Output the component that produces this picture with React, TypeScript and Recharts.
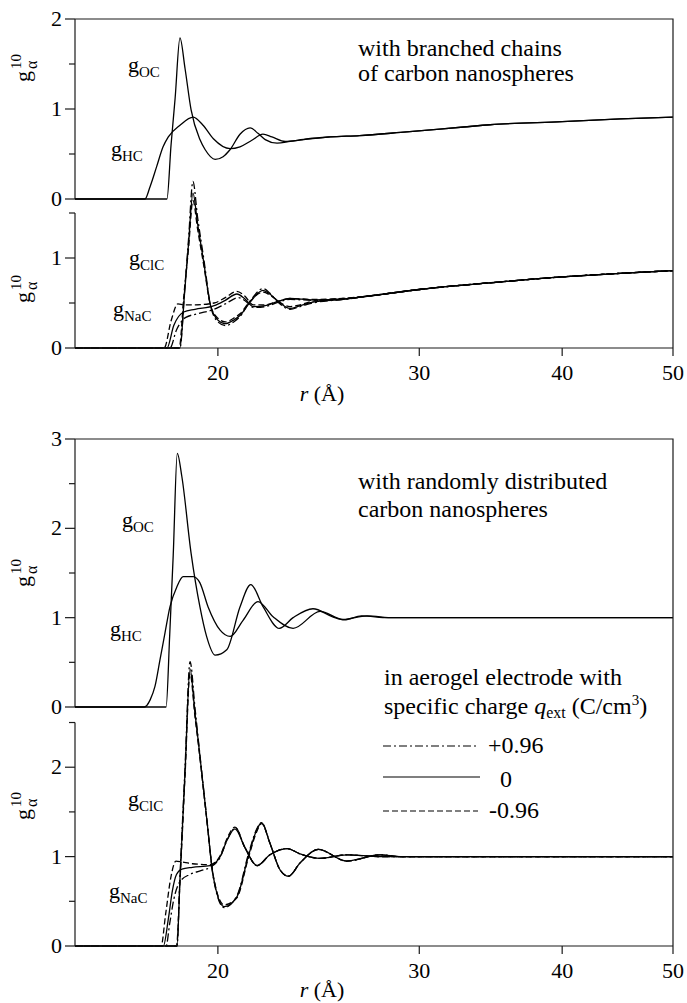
import React from "react";
import { LineChart, Line, XAxis, YAxis, ReferenceLine, Customized } from "recharts";

type Pt = [number, number];

// ---------- axes ----------
const R_DOMAIN: [number, number] = [15, 50];
const R_TICKS = [20, 30, 40, 50];

const Y_TICKS_A = [0, 0.5, 1, 1.5, 2];
const Y_TICKS_B = [0, 0.5, 1, 1.5];
const Y_TICKS_C = [0, 0.5, 1, 1.5, 2, 2.5, 3];
const Y_TICKS_D = [0, 0.5, 1, 1.5, 2, 2.5];

// ---------- top figure: branched chains of carbon nanospheres ----------
const gOC_branched: Pt[] = [
  [15, 0], [18.05, 0], [18.2, 0.6], [18.35, 1.12], [18.53, 1.79], [18.72, 1.45], [18.95, 0.99],
  [19.29, 0.66], [19.49, 0.55], [19.89, 0.44], [20.21, 0.47], [20.5, 0.55], [20.91, 0.72],
  [21.34, 0.79], [21.68, 0.73], [22.0, 0.66], [22.53, 0.62], [23.13, 0.64], [24.0, 0.67],
  [25.07, 0.69], [26.6, 0.705], [28.9, 0.74], [32.8, 0.8], [34.6, 0.825], [40, 0.86], [45, 0.89], [50, 0.91],
];
const gHC_branched: Pt[] = [
  [15, 0], [17.27, 0], [17.45, 0.14], [17.68, 0.36], [17.91, 0.58], [18.1, 0.69], [18.53, 0.82],
  [19.03, 0.91], [19.41, 0.82], [19.82, 0.67], [20.5, 0.56], [20.91, 0.58], [21.4, 0.65],
  [21.9, 0.72], [22.3, 0.69], [22.9, 0.64], [23.6, 0.655], [25.07, 0.69], [26.6, 0.705],
  [28.9, 0.74], [32.8, 0.8], [34.6, 0.825], [40, 0.86], [45, 0.89], [50, 0.91],
];
const ionTail_branched: Pt[] = [[27, 0.575], [30, 0.65], [35, 0.73], [40, 0.79], [45, 0.83], [50, 0.86]];
const gClC_branched_pos: Pt[] = [
  [15, 0], [18.53, 0], [18.7, 0.62], [18.85, 1.2], [19.02, 1.85], [19.2, 1.45], [19.45, 0.97],
  [19.7, 0.48], [20.0, 0.29], [20.3, 0.25], [20.7, 0.3], [20.91, 0.35], [21.34, 0.52], [21.9, 0.66],
  [22.2, 0.61], [22.53, 0.52], [23.13, 0.43], [23.6, 0.46], [24.22, 0.5], [25.73, 0.54], ...ionTail_branched,
];
const gClC_branched_zero: Pt[] = [
  [15, 0], [18.53, 0], [18.7, 0.6], [18.85, 1.15], [19.02, 1.72], [19.2, 1.38], [19.45, 0.93],
  [19.7, 0.48], [20.0, 0.31], [20.3, 0.27], [20.7, 0.32], [20.91, 0.36], [21.34, 0.51], [21.9, 0.64],
  [22.2, 0.6], [22.53, 0.53], [23.13, 0.44], [23.6, 0.47], [24.22, 0.51], [25.73, 0.54], ...ionTail_branched,
];
const gClC_branched_neg: Pt[] = [
  [15, 0], [18.5, 0], [18.68, 0.6], [18.85, 1.1], [19.02, 1.64], [19.2, 1.32], [19.45, 0.9],
  [19.7, 0.48], [20.0, 0.33], [20.3, 0.29], [20.7, 0.34], [20.91, 0.38], [21.34, 0.52], [21.9, 0.62],
  [22.2, 0.59], [22.53, 0.53], [23.13, 0.46], [23.6, 0.48], [24.22, 0.52], [25.73, 0.55], ...ionTail_branched,
];
const gNaC_branched_pos: Pt[] = [
  [15, 0], [18.16, 0], [18.4, 0.2], [18.75, 0.34], [19.2, 0.38], [19.85, 0.43], [20.3, 0.49],
  [20.85, 0.56], [21.15, 0.52], [21.48, 0.45], [22.0, 0.46], [22.6, 0.51], [23.13, 0.54],
  [24.22, 0.53], [25.73, 0.54], ...ionTail_branched,
];
const gNaC_branched_zero: Pt[] = [
  [15, 0], [18.05, 0], [18.3, 0.25], [18.67, 0.4], [19.1, 0.43], [19.85, 0.47], [20.3, 0.53],
  [20.78, 0.6], [21.1, 0.55], [21.48, 0.46], [22.0, 0.47], [22.6, 0.52], [23.13, 0.55],
  [24.22, 0.535], [25.73, 0.545], ...ionTail_branched,
];
const gNaC_branched_neg: Pt[] = [
  [15, 0], [17.95, 0], [18.2, 0.3], [18.45, 0.49], [18.7, 0.48], [19.1, 0.48], [19.85, 0.5],
  [20.3, 0.56], [20.78, 0.63], [21.1, 0.58], [21.48, 0.48], [22.0, 0.48], [22.6, 0.52],
  [23.13, 0.55], [24.22, 0.54], [25.73, 0.55], ...ionTail_branched,
];

// ---------- bottom figure: randomly distributed carbon nanospheres ----------
const gOC_random: Pt[] = [
  [15, 0], [18.02, 0], [18.15, 0.8], [18.28, 1.7], [18.43, 2.84], [18.6, 2.58], [18.95, 1.72],
  [19.29, 1.12], [19.55, 0.79], [19.89, 0.58], [20.36, 0.64], [20.91, 1.12], [21.37, 1.37],
  [21.91, 1.12], [22.63, 0.88], [23.27, 1.0], [24.22, 1.1], [25.2, 1.01], [25.8, 0.975],
  [26.7, 1.02], [28.2, 1.0], [35, 1.0], [50, 1.0],
];
const gHC_random: Pt[] = [
  [15, 0], [17.25, 0], [17.45, 0.08], [17.62, 0.23], [17.8, 0.53], [17.98, 0.83], [18.16, 1.12],
  [18.42, 1.35], [18.65, 1.46], [19.03, 1.46], [19.29, 1.39], [19.61, 1.12], [20.09, 0.86],
  [20.5, 0.79], [21.04, 0.97], [21.68, 1.18], [22.35, 1.01], [23.27, 0.88], [24.57, 1.07],
  [25.73, 0.98], [27.0, 1.02], [28.5, 1.0], [35, 1.0], [50, 1.0],
];
const clTail_random: Pt[] = [
  [22.21, 1.15], [22.67, 0.85], [23.05, 0.78], [23.6, 0.93], [24.48, 1.08], [25.92, 0.95],
  [27.72, 1.02], [28.86, 1.0], [35, 1.0], [50, 1.0],
];
const gClC_random_pos: Pt[] = [
  [15, 0], [18.42, 0], [18.53, 0.77], [18.72, 2.0], [18.91, 3.18], [19.1, 2.66], [19.23, 2.3],
  [19.55, 1.45], [19.82, 0.76], [20.25, 0.43], [20.78, 0.56], [21.26, 1.02], [21.63, 1.31],
  [21.84, 1.38], ...clTail_random,
];
const gClC_random_zero: Pt[] = [
  [15, 0], [18.42, 0], [18.53, 0.75], [18.72, 1.95], [18.91, 3.1], [19.1, 2.6], [19.23, 2.28],
  [19.55, 1.44], [19.82, 0.77], [20.25, 0.44], [20.78, 0.55], [21.26, 1.0], [21.63, 1.3],
  [21.84, 1.38], ...clTail_random,
];
const gClC_random_neg: Pt[] = [
  [15, 0], [18.4, 0], [18.53, 0.72], [18.72, 1.9], [18.91, 3.05], [19.1, 2.56], [19.23, 2.25],
  [19.55, 1.43], [19.82, 0.78], [20.25, 0.46], [20.78, 0.54], [21.26, 0.98], [21.63, 1.28],
  [21.84, 1.37], ...clTail_random,
];
const naTail_random: Pt[] = [
  [21.12, 1.1], [21.64, 0.9], [22.21, 1.02], [22.99, 1.09], [23.6, 1.03], [24.57, 0.98],
  [25.92, 1.02], [27.72, 1.0], [35, 1.0], [50, 1.0],
];
const gNaC_random_pos: Pt[] = [
  [15, 0], [18.02, 0], [18.15, 0.25], [18.3, 0.52], [18.53, 0.72], [18.9, 0.8], [19.3, 0.84],
  [19.69, 0.88], [20.09, 0.99], [20.4, 1.2], [20.72, 1.32], ...naTail_random,
];
const gNaC_random_zero: Pt[] = [
  [15, 0], [17.92, 0], [18.1, 0.3], [18.25, 0.62], [18.4, 0.8], [18.6, 0.86], [19.0, 0.88],
  [19.69, 0.9], [20.09, 1.0], [20.4, 1.2], [20.7, 1.31], ...naTail_random,
];
const gNaC_random_neg: Pt[] = [
  [15, 0], [17.84, 0], [18.0, 0.35], [18.2, 0.78], [18.38, 0.95], [18.6, 0.94], [19.0, 0.92],
  [19.69, 0.91], [20.09, 1.01], [20.4, 1.22], [20.7, 1.33], ...naTail_random,
];

const LEGEND_LABELS = ["+0.96", "0", "-0.96"];

// ---------- styling ----------
const FONT = '"Liberation Serif", "Times New Roman", Times, serif';
const AX = "#1a1a1a";
const DASH = "6 3";
const DASHDOT = "8 3 2 3";
const PLOT_LEFT = 75;
const PLOT_RIGHT = 673;
const PLOT_RIGHT_MARGIN = 687 - PLOT_RIGHT;

type Series = { name: string; data: Pt[]; dash?: string };

const toRows = (pts: Pt[]) => pts.map(([r, g]) => ({ r, g }));

function renderYTick(props: any) {
  const { y, payload } = props;
  const v = Number(payload.value);
  const major = Math.abs(v - Math.round(v)) < 1e-6;
  return (
    <g key={`yt-${v}`}>
      <line x1={major ? PLOT_LEFT - 10 : PLOT_LEFT - 6} x2={PLOT_LEFT} y1={y} y2={y} stroke={AX} strokeWidth={1.2} />
      {major ? (
        <text x={PLOT_LEFT - 13} y={y + 7} textAnchor="end" fontFamily={FONT} fontSize={22} fill="#000">
          {v}
        </text>
      ) : null}
    </g>
  );
}

const makeXTick = (yb: number) => (props: any) => {
  const { x, payload } = props;
  return (
    <g key={`xt-${payload.value}`}>
      <line x1={x} x2={x} y1={yb} y2={yb + 8} stroke={AX} strokeWidth={1.2} />
      <text x={x} y={yb + 32} textAnchor="middle" fontFamily={FONT} fontSize={22} fill="#000">
        {payload.value}
      </text>
    </g>
  );
};

function GLabel({ x, y, sub }: { x: number; y: number; sub: string }) {
  return (
    <text x={x} y={y} fontFamily={FONT} fontSize={22} fill="#000">
      g<tspan fontSize={15} dy={5}>{sub}</tspan>
    </text>
  );
}

function YLabel({ yStart }: { yStart: number }) {
  const gx = 30;
  const sy = yStart - 13;
  return (
    <g fontFamily={FONT} fill="#000">
      <text x={gx} y={yStart} fontSize={22} transform={`rotate(-90 ${gx} ${yStart})`}>g</text>
      <text x={21} y={sy} fontSize={15} transform={`rotate(-90 21 ${sy})`}>10</text>
      <text x={37} y={sy} fontSize={16} transform={`rotate(-90 37 ${sy})`}>α</text>
    </g>
  );
}

function RLabel({ y }: { y: number }) {
  return (
    <text x={322} y={y} textAnchor="middle" fontFamily={FONT} fontSize={22} fill="#000">
      <tspan fontStyle="italic">r</tspan> (Å)
    </text>
  );
}

type PanelProps = {
  top: number;
  mt: number;
  plotH: number;
  mb: number;
  yMax: number;
  yTicks: number[];
  spineTop: number;
  xAxis: boolean;
  series: Series[];
  overlay: React.ReactNode;
};

function Panel(p: PanelProps) {
  const xh = p.xAxis ? 60 : 0;
  const height = p.mt + p.plotH + xh + p.mb;
  const yb = p.mt + p.plotH;
  const Overlay = () => <g transform={`translate(0 ${-p.top})`}>{p.overlay}</g>;
  return (
    <div style={{ position: "absolute", left: 0, top: p.top, width: 687, height }}>
      <LineChart
        width={687}
        height={height}
        margin={{ top: p.mt, right: PLOT_RIGHT_MARGIN, bottom: p.mb, left: 0 }}
      >
        <XAxis
          type="number"
          dataKey="r"
          scale="log"
          domain={R_DOMAIN}
          ticks={R_TICKS}
          interval={0}
          hide={!p.xAxis}
          height={xh}
          tickLine={false}
          axisLine={{ stroke: AX, strokeWidth: 1.2 }}
          tick={makeXTick(yb)}
        />
        <YAxis
          type="number"
          domain={[0, p.yMax]}
          ticks={p.yTicks}
          interval={0}
          width={PLOT_LEFT}
          axisLine={false}
          tickLine={false}
          tick={renderYTick}
        />
        <ReferenceLine
          segment={[{ x: 15, y: 0 }, { x: 15, y: p.spineTop }]}
          stroke={AX}
          strokeWidth={1.2}
          ifOverflow="visible"
        />
        {p.series.map((s) => (
          <Line
            key={s.name}
            name={s.name}
            data={toRows(s.data)}
            dataKey="g"
            type="monotone"
            stroke="#000"
            strokeWidth={1.3}
            strokeDasharray={s.dash}
            dot={false}
            activeDot={false}
            isAnimationActive={false}
          />
        ))}
        <Customized component={Overlay} />
      </LineChart>
    </div>
  );
}

// Outer frame of each figure (top edge + right edge), drawn above the charts.
function FigureFrames() {
  const frames = [
    { top: 19, bottom: 348 },
    { top: 439, bottom: 946 },
  ];
  return (
    <svg
      width={687}
      height={1003}
      style={{ position: "absolute", left: 0, top: 0, pointerEvents: "none", zIndex: 5 }}
    >
      {frames.map((f) => (
        <path
          key={f.top}
          d={`M ${PLOT_LEFT} ${f.top} H ${PLOT_RIGHT} V ${f.bottom}`}
          stroke={AX}
          strokeWidth={1.2}
          fill="none"
        />
      ))}
    </svg>
  );
}

const annot = { fontFamily: FONT, fontSize: 24, fill: "#000" } as const;

export default function App() {
  return (
    <div style={{ position: "absolute", left: 0, top: 0, width: 687, height: 1003, background: "#fff" }}>
      {/* Panel A: water, branched */}
      <Panel
        top={0}
        mt={19}
        plotH={180}
        mb={16}
        yMax={2}
        yTicks={Y_TICKS_A}
        spineTop={2}
        xAxis={false}
        series={[
          { name: "OC branched", data: gOC_branched },
          { name: "HC branched", data: gHC_branched },
        ]}
        overlay={
          <g>
            <text x={358} y={56} {...annot}>with branched chains</text>
            <text x={358} y={81} {...annot}>of carbon nanospheres</text>
            <GLabel x={128} y={72} sub="OC" />
            <GLabel x={111} y={156} sub="HC" />
            <YLabel yStart={82} />
          </g>
        }
      />
      {/* Panel B: ions, branched */}
      <Panel
        top={160}
        mt={8}
        plotH={180}
        mb={0}
        yMax={2}
        yTicks={Y_TICKS_B}
        spineTop={1.5}
        xAxis
        series={[
          { name: "ClC branched +", data: gClC_branched_pos, dash: DASHDOT },
          { name: "ClC branched 0", data: gClC_branched_zero },
          { name: "ClC branched -", data: gClC_branched_neg, dash: DASH },
          { name: "NaC branched +", data: gNaC_branched_pos, dash: DASHDOT },
          { name: "NaC branched 0", data: gNaC_branched_zero },
          { name: "NaC branched -", data: gNaC_branched_neg, dash: DASH },
        ]}
        overlay={
          <g>
            <GLabel x={129} y={265} sub="ClC" />
            <GLabel x={113} y={316} sub="NaC" />
            <YLabel yStart={303} />
            <RLabel y={401} />
          </g>
        }
      />
      {/* Panel C: water, random */}
      <Panel
        top={425}
        mt={14}
        plotH={268}
        mb={16}
        yMax={3}
        yTicks={Y_TICKS_C}
        spineTop={3}
        xAxis={false}
        series={[
          { name: "OC random", data: gOC_random },
          { name: "HC random", data: gHC_random },
        ]}
        overlay={
          <g>
            <text x={358} y={489} {...annot}>with randomly distributed</text>
            <text x={358} y={517} {...annot}>carbon nanospheres</text>
            <GLabel x={122} y={527} sub="OC" />
            <GLabel x={110} y={636} sub="HC" />
            <YLabel yStart={587} />
          </g>
        }
      />
      {/* Panel D: ions, random */}
      <Panel
        top={640}
        mt={11}
        plotH={295}
        mb={0}
        yMax={3.3}
        yTicks={Y_TICKS_D}
        spineTop={2.5}
        xAxis
        series={[
          { name: "ClC random +", data: gClC_random_pos, dash: DASHDOT },
          { name: "ClC random 0", data: gClC_random_zero },
          { name: "ClC random -", data: gClC_random_neg, dash: DASH },
          { name: "NaC random +", data: gNaC_random_pos, dash: DASHDOT },
          { name: "NaC random 0", data: gNaC_random_zero },
          { name: "NaC random -", data: gNaC_random_neg, dash: DASH },
        ]}
        overlay={
          <g>
            <GLabel x={128} y={806} sub="ClC" />
            <GLabel x={109} y={898} sub="NaC" />
            <YLabel yStart={820} />
            <RLabel y={997} />
            <text x={384} y={685} {...annot}>in aerogel electrode with</text>
            <text x={384} y={714} {...annot}>
              specific charge{"  "}
              <tspan fontStyle="italic">q</tspan>
              <tspan fontSize={16} dy={4}>ext</tspan>
              <tspan dy={-4}> (C/cm</tspan>
              <tspan fontSize={15} dy={-9}>3</tspan>
              <tspan dy={9}>)</tspan>
            </text>
            <line x1={383} x2={478} y1={746} y2={746} stroke="#000" strokeWidth={1.2} strokeDasharray={DASHDOT} />
            <text x={488} y={753} {...annot}>{LEGEND_LABELS[0]}</text>
            <line x1={383} x2={480} y1={777} y2={777} stroke="#000" strokeWidth={1.2} />
            <text x={500} y={787} {...annot}>{LEGEND_LABELS[1]}</text>
            <line x1={383} x2={478} y1={811} y2={811} stroke="#000" strokeWidth={1.2} strokeDasharray={DASH} />
            <text x={489} y={818} {...annot}>{LEGEND_LABELS[2]}</text>
          </g>
        }
      />
      <FigureFrames />
    </div>
  );
}
